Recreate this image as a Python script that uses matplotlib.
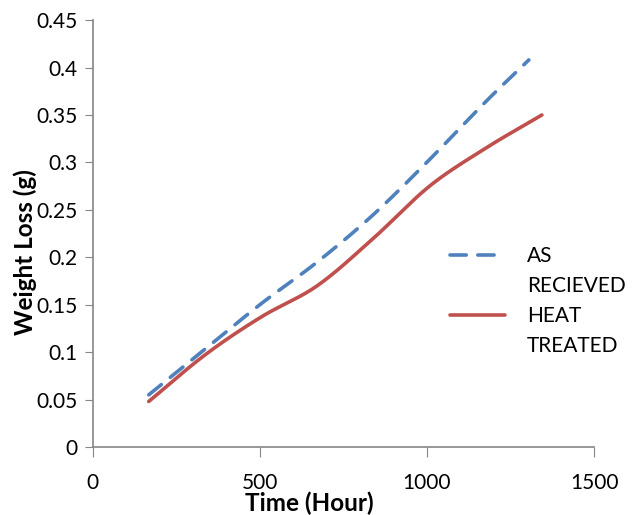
import numpy as np
import matplotlib
matplotlib.use("Agg")
import matplotlib.pyplot as plt
from matplotlib.lines import Line2D

plt.rcParams['font.family'] = ['Lato', 'DejaVu Sans']

# Data
time_received = [168, 336, 504, 672, 840, 1008, 1176, 1305]
loss_received = [0.055, 0.103, 0.151, 0.195, 0.245, 0.303, 0.364, 0.408]

time_heat = [168, 336, 504, 672, 840, 1008, 1176, 1344]
loss_heat = [0.048, 0.097, 0.137, 0.170, 0.220, 0.275, 0.315, 0.350]

xticks = [0, 500, 1000, 1500]
yticks = [0, 0.05, 0.1, 0.15, 0.2, 0.25, 0.3, 0.35, 0.4, 0.45]
ytick_labels = ["0", "0.05", "0.1", "0.15", "0.2", "0.25", "0.3", "0.35", "0.4", "0.45"]

BLUE = "#4F81BD"
RED = "#C0504D"


def smooth(x, y, n=30):
    # Catmull-Rom style curve through the points (like Excel "smoothed line")
    x = np.asarray(x, float)
    y = np.asarray(y, float)
    px = np.concatenate([[2 * x[0] - x[1]], x, [2 * x[-1] - x[-2]]])
    py = np.concatenate([[2 * y[0] - y[1]], y, [2 * y[-1] - y[-2]]])
    xs, ys = [], []
    t = np.linspace(0, 1, n)
    for i in range(1, len(px) - 2):
        for p, out in ((px, xs), (py, ys)):
            p0, p1, p2, p3 = p[i - 1], p[i], p[i + 1], p[i + 2]
            m1 = (p2 - p0) / 2
            m2 = (p3 - p1) / 2
            h00 = 2 * t**3 - 3 * t**2 + 1
            h10 = t**3 - 2 * t**2 + t
            h01 = -2 * t**3 + 3 * t**2
            h11 = t**3 - t**2
            out.extend(h00 * p1 + h10 * m1 + h01 * p2 + h11 * m2)
    return np.array(xs), np.array(ys)


fig = plt.figure(figsize=(6.34, 5.15), dpi=100)
ax = fig.add_axes([0.146, 0.132, 0.791, 0.829])

sx, sy = smooth(time_received, loss_received)
ax.plot(sx, sy, color=BLUE, lw=2.6, dashes=(4.5, 3.2), dash_capstyle="round")
sx, sy = smooth(time_heat, loss_heat)
ax.plot(sx, sy, color=RED, lw=2.6, solid_capstyle="round")

ax.set_xlim(0, 1500)
ax.set_ylim(0, 0.45)
ax.set_xticks(xticks)
ax.set_yticks(yticks)
ax.set_yticklabels(ytick_labels)

for s in ["top", "right"]:
    ax.spines[s].set_visible(False)
for s in ["left", "bottom"]:
    ax.spines[s].set_color("#868686")
    ax.spines[s].set_linewidth(1.2)

ax.tick_params(axis="x", direction="out", length=7, color="#868686",
               labelsize=15, pad=12)
ax.tick_params(axis="y", direction="out", length=6, color="#868686",
               labelsize=15, pad=5)

ax.set_xlabel("Time (Hour)", fontsize=17.5, fontweight="bold")
ax.xaxis.set_label_coords(0.433, -0.105)
ax.set_ylabel("Weight Loss (g)", fontsize=17.5, fontweight="bold")
ax.yaxis.set_label_coords(-0.11, 0.457)

# legend: handle next to first line of each two-line label
handles = [
    Line2D([], [], color=BLUE, lw=2.6, dashes=(4.5, 3.2), dash_capstyle="round"),
    Line2D([], [], color="none"),
    Line2D([], [], color=RED, lw=2.6, solid_capstyle="round"),
    Line2D([], [], color="none"),
]
labels = ["AS", "RECIEVED", "HEAT", "TREATED"]
ax.legend(handles, labels, loc="upper left", bbox_to_anchor=(0.713, 0.470),
          frameon=False, fontsize=15, handlelength=2.65, handletextpad=1.05,
          labelspacing=0.47, borderpad=0, borderaxespad=0)

fig.savefig("out.png", dpi=100)
